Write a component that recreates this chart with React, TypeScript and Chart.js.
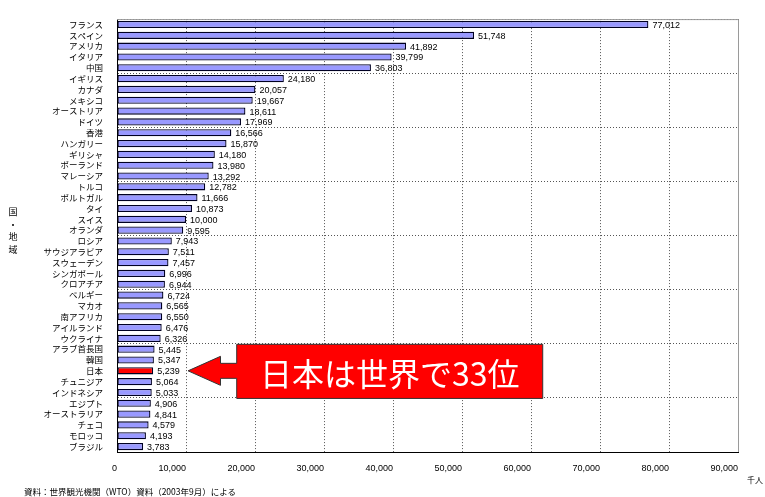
import React, { useEffect, useRef } from 'react';
import { Chart, registerables } from 'chart.js';

Chart.register(...registerables);

// ---- data ----
const countries = [
  'フランス', 'スペイン', 'アメリカ', 'イタリア', '中国',
  'イギリス', 'カナダ', 'メキシコ', 'オーストリア', 'ドイツ',
  '香港', 'ハンガリー', 'ギリシャ', 'ポーランド', 'マレーシア',
  'トルコ', 'ポルトガル', 'タイ', 'スイス', 'オランダ',
  'ロシア', 'サウジアラビア', 'スウェーデン', 'シンガポール', 'クロアチア',
  'ベルギー', 'マカオ', '南アフリカ', 'アイルランド', 'ウクライナ',
  'アラブ首長国', '韓国', '日本', 'チュニジア', 'インドネシア',
  'エジプト', 'オーストラリア', 'チェコ', 'モロッコ', 'ブラジル',
];
const visitors = [
  77012, 51748, 41892, 39799, 36803,
  24180, 20057, 19667, 18611, 17969,
  16566, 15870, 14180, 13980, 13292,
  12782, 11666, 10873, 10000, 9595,
  7943, 7511, 7457, 6996, 6944,
  6724, 6565, 6550, 6476, 6326,
  5445, 5347, 5239, 5064, 5033,
  4906, 4841, 4579, 4193, 3783,
];
const xMin = 0;
const xMax = 90000;
const xStep = 10000;
const highlightCountry = '日本';
const calloutText = '日本は世界で33位';
const yTitleChars = ['国', '・', '地', '域'];
const unitText = '千人';
const footerText = '資料：世界観光機関（WTO）資料（2003年9月）による';

const fmt = (v: number) => v.toLocaleString('en-US');

const JP_FONT = '"Noto Sans CJK JP", "Noto Sans", sans-serif';
const NUM_FONT = '"Liberation Sans", Arial, sans-serif';

const framePlugin = {
  id: 'frame',
  beforeDatasetsDraw(chart: any) {
    const { ctx, chartArea } = chart;
    ctx.save();
    ctx.strokeStyle = '#9a9a9a';
    ctx.lineWidth = 1;
    ctx.beginPath();
    ctx.moveTo(chartArea.left, chartArea.top + 0.5);
    ctx.lineTo(chartArea.right + 0.5, chartArea.top + 0.5);
    ctx.lineTo(chartArea.right + 0.5, chartArea.bottom);
    ctx.stroke();
    ctx.restore();
  },
};

const valueLabelPlugin = {
  id: 'valueLabels',
  afterDatasetsDraw(chart: any) {
    const { ctx } = chart;
    const meta = chart.getDatasetMeta(0);
    ctx.save();
    ctx.font = `9px ${NUM_FONT}`;
    ctx.fillStyle = '#000';
    ctx.textAlign = 'left';
    ctx.textBaseline = 'middle';
    meta.data.forEach((bar: any, i: number) => {
      ctx.fillText(fmt(visitors[i]), bar.x + 4, bar.y + 1);
    });
    ctx.restore();
  },
};

const calloutPlugin = {
  id: 'callout',
  afterDraw(chart: any) {
    const { ctx } = chart;
    const xs = chart.scales.x;
    const ys = chart.scales.y;
    const idx = countries.indexOf(highlightCountry);
    const cy = ys.getPixelForValue(idx);
    const boxTop = ys.getPixelForValue(idx - 2.45);
    const boxBot = ys.getPixelForValue(idx + 2.55);
    const boxL = xs.getPixelForValue(17350);
    const boxR = xs.getPixelForValue(61700);
    const tipX = xs.getPixelForValue(10300);
    const headX = xs.getPixelForValue(15000);
    const headH = 14.5;
    const shaftH = 7.5;
    ctx.save();
    ctx.beginPath();
    ctx.moveTo(tipX, cy);
    ctx.lineTo(headX, cy - headH);
    ctx.lineTo(headX, cy - shaftH);
    ctx.lineTo(boxL, cy - shaftH);
    ctx.lineTo(boxL, boxTop);
    ctx.lineTo(boxR, boxTop);
    ctx.lineTo(boxR, boxBot);
    ctx.lineTo(boxL, boxBot);
    ctx.lineTo(boxL, cy + shaftH);
    ctx.lineTo(headX, cy + shaftH);
    ctx.lineTo(headX, cy + headH);
    ctx.closePath();
    ctx.fillStyle = '#ff0000';
    ctx.fill();
    ctx.strokeStyle = '#333';
    ctx.lineWidth = 1;
    ctx.stroke();
    ctx.fillStyle = '#ffffff';
    ctx.font = `400 32px ${JP_FONT}`;
    ctx.textAlign = 'center';
    ctx.textBaseline = 'middle';
    ctx.fillText(calloutText, (boxL + boxR) / 2, (boxTop + boxBot) / 2 + 2);
    ctx.restore();
  },
};

export default function App() {
  const canvasRef = useRef<HTMLCanvasElement | null>(null);

  useEffect(() => {
    if (!canvasRef.current) return;
    const colors = countries.map((c) => (c === highlightCountry ? '#ff0000' : '#9999ff'));
    const chart = new Chart(canvasRef.current, {
      type: 'bar',
      data: {
        labels: countries,
        datasets: [
          {
            data: visitors,
            backgroundColor: colors,
            borderColor: '#000022',
            borderWidth: 1.3,
            borderSkipped: false,
            categoryPercentage: 1,
            barPercentage: 0.66,
          },
        ],
      },
      options: {
        indexAxis: 'y',
        animation: false,
        responsive: false,
        maintainAspectRatio: false,
        layout: { padding: { top: 11, right: 27, left: 0, bottom: 0 } },
        plugins: {
          legend: { display: false },
          tooltip: { enabled: false },
          title: { display: false },
        },
        scales: {
          x: {
            type: 'linear',
            min: xMin,
            max: xMax,
            afterFit: (scale: any) => {
              scale.height = 45;
            },
            ticks: {
              stepSize: xStep,
              align: 'end',
              padding: 11,
              color: '#000',
              font: { family: NUM_FONT, size: 9 },
              callback: (v: any) => fmt(Number(v)),
            },
            grid: {
              drawTicks: false,
              lineWidth: 1,
              color: (c: any) => (c.index === 0 ? 'transparent' : '#555'),
            },
            border: { display: true, color: '#000', width: 1, dash: [1, 2] },
          },
          y: {
            type: 'category',
            afterFit: (scale: any) => {
              scale.width = 117;
            },
            ticks: {
              padding: 14,
              color: '#000',
              autoSkip: false,
              font: { family: JP_FONT, size: 8.5 },
            },
            grid: {
              drawTicks: false,
              offset: true,
              lineWidth: 1,
              color: (c: any) => (c.index % 5 === 0 ? '#555' : 'transparent'),
            },
            border: { display: true, color: '#000', width: 1, dash: [1, 2] },
          },
        },
      },
      plugins: [framePlugin, valueLabelPlugin, calloutPlugin],
    } as any);
    return () => chart.destroy();
  }, []);

  return (
    <div
      style={{
        position: 'fixed',
        left: 0,
        top: 0,
        width: 765,
        height: 497,
        background: '#fff',
        overflow: 'hidden',
      }}
    >
      <canvas ref={canvasRef} width={765} height={497} style={{ display: 'block' }} />
      <div
        style={{
          position: 'absolute',
          left: 8,
          top: 206,
          width: 10,
          fontFamily: JP_FONT,
          fontSize: 9,
          lineHeight: '12.5px',
          textAlign: 'center',
          color: '#000',
        }}
      >
        {yTitleChars.map((ch, i) => (
          <div key={i}>{ch}</div>
        ))}
      </div>
      <div
        style={{
          position: 'absolute',
          left: 747,
          top: 474,
          fontFamily: JP_FONT,
          fontSize: 8,
          lineHeight: '12px',
          color: '#000',
          whiteSpace: 'nowrap',
        }}
      >
        {unitText}
      </div>
      <div
        style={{
          position: 'absolute',
          left: 24,
          top: 486,
          fontFamily: JP_FONT,
          fontSize: 8.5,
          lineHeight: '11px',
          color: '#000',
          whiteSpace: 'nowrap',
        }}
      >
        {footerText}
      </div>
    </div>
  );
}
